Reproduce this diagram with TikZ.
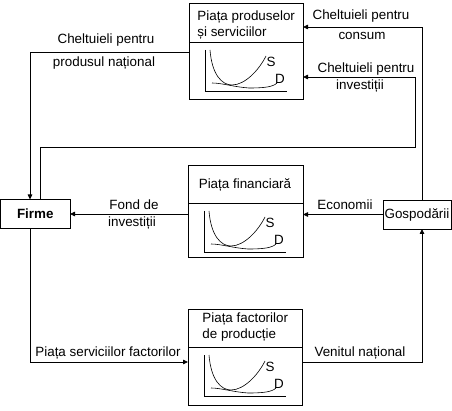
\documentclass[tikz,border=0pt]{standalone}
\usepackage{fontspec}
\setmainfont{Liberation Sans}
\usetikzlibrary{arrows.meta}
\begin{document}
\begin{tikzpicture}[x=1pt,y=-1pt,line width=0.8pt,
  font=\fontsize{13.4}{16}\selectfont,
  box/.style={draw,inner sep=0pt,outer sep=0pt,anchor=north west},
  lbl/.style={inner sep=0pt,align=center},
  arr/.style={-{Triangle[length=5pt,width=4.5pt]}},
  sdgraph/.pic={
    \draw[line width=0.6pt] (16,8) -- (16,49) -- (98,49);
    \draw[line width=0.6pt] (21,8) .. controls (23,33) and (33,43) .. (43,43) .. controls (56,43) and (70,28) .. (77,14);
    \draw[line width=0.6pt] (23,41) .. controls (33,41) and (45,45) .. (60,46) .. controls (75,46) and (84,45) .. (88,41);
    \node[lbl] (-s) at (82,20) {S};
    \node[lbl] (-d) at (91,37) {D};
  }]
\useasboundingbox (0,0) rectangle (452,411);
% boxes
\node[box,minimum width=114pt,minimum height=96pt] (pps) at (189,3) {};
\draw (pps.west |- 0,42) -- (pps.east |- 0,42);
\node[lbl,anchor=west,align=left] (ppst) at (197,25) {Piața produselor\\și serviciilor};
\pic (g1) at (189,42) {sdgraph};

\node[box,minimum width=115pt,minimum height=92pt] (pfin) at (188,165) {};
\draw (pfin.west |- 0,203) -- (pfin.east |- 0,203);
\node[lbl] (pfint) at (245,185) {Piața financiară};
\pic (g2) at (188,203) {sdgraph};

\node[box,minimum width=114pt,minimum height=96pt] (pfp) at (188,309) {};
\draw (pfp.west |- 0,347) -- (pfp.east |- 0,347);
\node[lbl,anchor=west,align=left] (pfpt) at (202,327) {Piața factorilor\\de producție};
\pic (g3) at (188,347) {sdgraph};

\node[box,minimum width=69.5pt,minimum height=29pt] (fi) at (0.5,199.5) {\textbf{Firme}};
\node[box,minimum width=68pt,minimum height=29pt] (gos) at (383,200) {Gospodării};

% connectors
\draw[arr] (pps.west |- 0,52) -| (fi.north -| 30,0);
\draw[arr] (fi.north -| 40,0) |- (415,147) |- (pps.east |- 0,77);
\draw[arr] (gos.north -| 422,0) |- (pps.east |- 0,27);
\draw[arr] (gos.west) -- (pfin.east |- gos.west);
\draw[arr] (pfin.west |- fi.east) -- (fi.east);
\draw[arr] (fi.south -| 30,0) |- (pfp.west |- 0,362);
\draw[arr] (pfp.east |- 0,362) -| (gos.south -| 422,0);

% labels
\node[lbl] (l1) at (106,40) {Cheltuieli pentru};
\node[lbl] (l2) at (104,63) {produsul național};
\node[lbl] (l3) at (361,16) {Cheltuieli pentru};
\node[lbl] (l4) at (362,36) {consum};
\node[lbl] (l5) at (366,69) {Cheltuieli pentru};
\node[lbl] (l6) at (360,86) {investiții};
\node[lbl] (l7) at (345,205) {Economii};
\node[lbl] (l8) at (134,205) {Fond de};
\node[lbl] (l9) at (132,223) {investiții};
\node[lbl] (l10) at (108,353) {Piața serviciilor factorilor};
\node[lbl] (l11) at (360,353) {Venitul național};
\end{tikzpicture}
\end{document}
